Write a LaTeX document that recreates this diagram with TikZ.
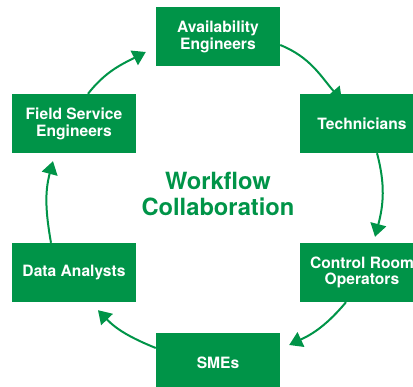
\documentclass[tikz,border=0pt]{standalone}
\usepackage{fontspec}
\setmainfont{TeX Gyre Heros}
\usetikzlibrary{arrows.meta,calc}
\definecolor{wfgreen}{RGB}{0,148,72}
\tikzset{
  rolebox/.style={fill=wfgreen, draw=none, minimum width=124pt, minimum height=59pt, inner sep=0pt,
    text=white, align=center, font=\fontsize{15.6}{16.8}\selectfont\bfseries},
  flowarrow/.style={draw=wfgreen, line width=2pt, -{Triangle[length=13pt,width=16pt]}},
  title/.style={text=wfgreen, align=center, font=\fontsize{23.7}{25.5}\selectfont\bfseries}
}
\begin{document}
\begin{tikzpicture}[x=1pt,y=1pt]
\useasboundingbox (0,0) rectangle (413,-387);
\node[rolebox] (avail) at (218,-36.5) {Availability\\Engineers};
\node[rolebox] (tech) at (362,-123.5) {Technicians};
\node[rolebox] (ctrl) at (362,-272.5) {Control Room\\Operators};
\node[rolebox] (smes) at (218,-362.5) {SMEs};
\node[rolebox] (data) at (74,-272.5) {Data Analysts};
\node[rolebox] (field) at (74,-123.5) {Field Service\\Engineers};
\node[title] (wf) at (218,-194) {Workflow\\Collaboration};

\draw[flowarrow] ($(field.north)+(14,0)$) to[out=52,in=207] ($(avail.west)+(-10,-15.5)$);
\draw[flowarrow] ($(avail.east)+(0,-8.5)$) to[out=-22,in=131] ($(tech.north)+(-20,-7)$);
\draw[flowarrow] ($(tech.south)+(15,0)$) to[out=-75,in=75] ($(ctrl.north)+(13,6)$);
\draw[flowarrow] ($(ctrl.south)+(-16,0)$) to[out=-130,in=25] ($(smes.east)+(9,17.5)$);
\draw[flowarrow] ($(smes.west)+(0,14.5)$) to[out=158,in=-46] ($(data.south)+(24,-8)$);
\draw[flowarrow] ($(data.north)+(-23,0)$) to[out=100,in=-105] ($(field.south)+(-21,-8)$);
\end{tikzpicture}
\end{document}
